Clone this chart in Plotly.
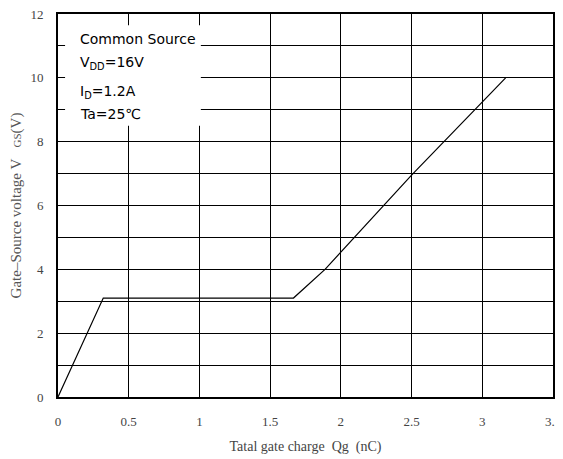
import plotly.graph_objects as go

# Data
qg_nc = [0.0, 0.32, 1.665, 1.888, 2.5, 3.0, 3.165]
vgs_v = [0.0, 3.1, 3.1, 4.0, 6.95, 9.22, 10.0]

x_ticks = [0, 0.5, 1, 1.5, 2, 2.5, 3, 3.5]
x_tick_labels = ["0", "0.5", "1", "1.5", "2", "2.5", "3", "3.5"]
y_ticks = [0, 2, 4, 6, 8, 10, 12]
y_tick_labels = ["0", "2", "4", "6", "8", "10", "12"]

info_lines = ["Common Source", "V<sub>DD</sub>=16V", "I<sub>D</sub>=1.2A", "Ta=25℃"]
info_y = [11.22, 10.45, 9.55, 8.88]

fig = go.Figure()
fig.add_trace(go.Scatter(x=qg_nc, y=vgs_v, mode="lines",
                         line=dict(color="black", width=1.2),
                         showlegend=False, hoverinfo="skip"))

serif = "Liberation Serif, DejaVu Serif, serif"

# the page adds an 8px body margin; margins are set so the plot area lands where the reference has it
fig.update_layout(
    width=563, height=459,
    margin=dict(l=50, r=18, t=6, b=70, autoexpand=False),
    paper_bgcolor="white", plot_bgcolor="white",
    font=dict(family=serif, size=13, color="#333333"),
    xaxis=dict(range=[0, 3.5], tickvals=x_ticks, ticktext=x_tick_labels,
               automargin=False, ticklabeloverflow="allow",
               showgrid=True, gridcolor="black", gridwidth=1,
               showline=True, linecolor="black", linewidth=2, mirror=True,
               zeroline=False, ticks="", ticklabelstandoff=11,
               tickfont=dict(family=serif, size=13, color="#444444"),
               title=dict(text="Tatal gate charge  Qg  (nC)", standoff=14,
                          font=dict(family=serif, size=14, color="#444444"))),
    yaxis=dict(range=[0, 12], tickvals=y_ticks, ticktext=y_tick_labels,
               automargin=False, ticklabeloverflow="allow",
               showgrid=True, gridcolor="black", gridwidth=1,
               minor=dict(dtick=1, tick0=0, showgrid=True, gridcolor="black", gridwidth=1),
               showline=True, linecolor="black", linewidth=2, mirror=True,
               zeroline=False, ticks="", ticklabelstandoff=10,
               tickfont=dict(family=serif, size=13, color="#444444"),
               title=dict(text="Gate–Source voltage V&nbsp;&nbsp;&nbsp;<span style='font-size:11px'>GS</span>(V)",
                          standoff=12,
                          font=dict(family=serif, size=15, color="#555555"))),
)

# white box behind the condition text
fig.add_shape(type="rect", xref="x", yref="y", x0=0.05, x1=1.01, y0=8.5, y1=11.65,
              fillcolor="white", line=dict(width=0), layer="above")

for txt, yy in zip(info_lines, info_y):
    fig.add_annotation(x=0.14, y=yy, xref="x", yref="y", text=txt, showarrow=False,
                       xanchor="left", yanchor="middle",
                       font=dict(family="DejaVu Sans, Liberation Sans, sans-serif", size=14, color="black"))

fig.write_html("out.html")
